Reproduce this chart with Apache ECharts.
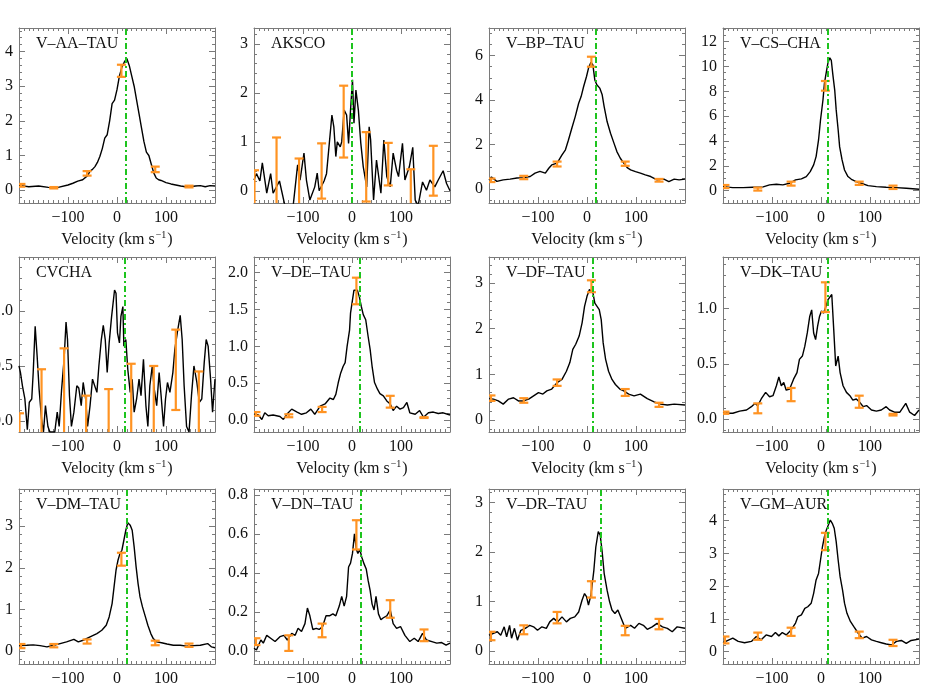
<!DOCTYPE html>
<html>
<head>
<meta charset="utf-8">
<title>Line profiles</title>
<script src="https://cdn.jsdelivr.net/npm/echarts@6/dist/echarts.min.js"></script>
<style>
    html, body { margin: 0; padding: 0; background: #fff; }
    #main { width: 939px; height: 692px; }
</style>
</head>
<body>
<div id="main"></div>
<script>
// star names, one per panel
var starNames = ['V–AA–TAU', 'AKSCO', 'V–BP–TAU', 'V–CS–CHA',
                 'CVCHA', 'V–DE–TAU', 'V–DF–TAU', 'V–DK–TAU',
                 'V–DM–TAU', 'V–DN–TAU', 'V–DR–TAU', 'V–GM–AUR'];

// systemic velocity (green dash-dot line), km/s
var vsys = [18, 0, 17, 13, 16, 16, 12, 14, 19, 17, 28, 14];

// line profiles: [velocity, flux]
var aaTau = [[-200,0.14],[-180,0.1],[-160,0.12],[-140,0.08],[-130,0.07],[-120,0.08],[-100,0.15],[-90,0.2],[-80,0.26],[-70,0.3],[-60,0.42],[-55,0.55],[-50,0.6],[-45,0.68],[-40,0.8],[-35,0.97],[-30,1.2],[-25,1.5],[-20,1.6],[-15,2.0],[-10,2.5],[-5,2.6],[0,2.9],[5,3.3],[10,3.55],[15,3.7],[20,3.8],[25,3.6],[30,3.3],[35,3.0],[40,2.6],[45,2.2],[50,1.8],[55,1.4],[60,1.1],[65,1.0],[70,0.75],[75,0.5],[80,0.35],[85,0.3],[90,0.28],[100,0.22],[110,0.18],[120,0.15],[130,0.12],[140,0.1],[150,0.1],[160,0.12],[170,0.13],[180,0.1],[190,0.13],[200,0.12]];
var akSco = [[-200,0.22],[-195,0.35],[-188,0.2],[-183,0.57],[-174,-0.05],[-166,0.35],[-161,-0.05],[-148,0.2],[-144,0.18],[-137,-0.3],[-130,-0.3],[-120,-0.3],[-111,0.53],[-106,0.22],[-98,0.77],[-93,0.22],[-86,-0.19],[-76,0.08],[-71,0.36],[-67,0.0],[-57,0.2],[-52,0.35],[-41,1.55],[-37,1.3],[-33,0.7],[-30,1.0],[-24,0.9],[-21,1.0],[-16,1.65],[-11,1.55],[-7,0.97],[-3,1.65],[1,2.27],[4,1.38],[8,2.06],[13,1.65],[18,0.97],[23,0.49],[30,0.08],[35,1.31],[38,1.04],[44,-0.19],[50,0.63],[59,-0.05],[65,1.04],[71,0.29],[78,0.08],[84,0.77],[91,0.42],[95,0.29],[103,0.97],[108,0.22],[117,0.49],[124,0.89],[129,-0.19],[135,-0.3],[144,0.18],[152,0.01],[159,0.22],[169,0.08],[176,0.22],[186,0.41],[193,0.15],[200,0.0]];
var bpTau = [[-200,0.42],[-195,0.55],[-184,0.35],[-171,0.42],[-157,0.45],[-143,0.5],[-130,0.52],[-116,0.57],[-106,0.72],[-96,0.8],[-85,0.72],[-78,0.94],[-72,1.09],[-61,1.17],[-51,1.54],[-44,1.77],[-38,2.2],[-31,2.74],[-24,3.26],[-17,3.86],[-12,4.16],[-7,4.6],[-1,5.06],[3,5.43],[8,5.7],[12,5.58],[16,4.9],[20,4.69],[26,4.54],[31,4.24],[35,3.71],[41,3.04],[48,2.51],[55,2.07],[61,1.69],[68,1.39],[75,1.17],[82,0.97],[89,0.87],[99,0.79],[109,0.72],[119,0.64],[130,0.57],[143,0.42],[157,0.45],[167,0.34],[178,0.45],[188,0.42],[200,0.45]];
var csCha = [[-200,0.32],[-180,0.24],[-159,0.24],[-139,0.27],[-118,0.3],[-105,0.46],[-91,0.51],[-78,0.46],[-64,0.59],[-52,0.86],[-40,0.94],[-30,1.13],[-22,1.53],[-15,2.07],[-10,2.74],[-5,4.08],[-1,5.69],[4,7.3],[7,8.64],[11,9.58],[14,10.25],[18,10.7],[21,10.5],[24,9.4],[28,8.1],[31,6.5],[35,4.9],[38,3.54],[43,2.47],[48,1.66],[55,1.13],[62,0.91],[72,0.72],[82,0.59],[96,0.4],[113,0.32],[133,0.27],[154,0.24],[174,0.19],[200,0.11]];
var cvCha = [[-200,0.5],[-197,0.44],[-193,0.32],[-188,0.2],[-183,-0.08],[-179,0.17],[-174,0.2],[-171,0.44],[-167,0.86],[-163,0.59],[-159,0.29],[-154,0.02],[-150,-0.1],[-146,0.14],[-141,-0.05],[-137,-0.1],[-127,-0.1],[-122,0.08],[-118,-0.05],[-113,0.29],[-108,0.56],[-104,0.9],[-101,0.74],[-97,0.23],[-93,-0.05],[-88,0.08],[-82,0.32],[-78,0.3],[-73,0.14],[-69,0.35],[-64,0.2],[-60,-0.05],[-55,0.14],[-50,0.38],[-46,0.38],[-41,0.26],[-37,0.5],[-32,0.74],[-28,0.87],[-24,0.74],[-20,0.44],[-16,0.71],[-11,0.95],[-5,1.19],[-2,1.16],[1,0.8],[5,0.71],[8,0.95],[12,1.04],[14,0.68],[18,0.74],[22,0.47],[27,0.26],[31,0.38],[35,0.08],[40,0.2],[45,0.38],[49,0.23],[54,0.56],[59,0.14],[63,-0.05],[67,0.32],[72,0.5],[76,0.29],[81,0.14],[86,0.44],[90,0.23],[95,-0.05],[99,0.2],[103,0.35],[108,0.26],[114,0.44],[118,0.65],[123,0.8],[129,0.96],[133,0.74],[137,0.32],[142,-0.05],[147,-0.1],[152,0.23],[157,0.5],[163,0.35],[168,0.17],[173,0.2],[178,0.53],[182,0.74],[186,0.68],[191,0.38],[195,0.08],[200,0.38]];
var deTau = [[-200,0.08],[-191,0.07],[-184,0.01],[-178,0.1],[-171,0.06],[-161,0.07],[-147,0.05],[-140,0.01],[-133,0.08],[-123,0.15],[-112,0.11],[-103,0.08],[-93,0.1],[-84,0.15],[-76,0.08],[-65,0.19],[-55,0.22],[-45,0.3],[-38,0.28],[-33,0.35],[-28,0.51],[-23,0.64],[-18,0.73],[-14,0.78],[-10,1.0],[-5,1.22],[-3,1.45],[1,1.63],[4,1.76],[7,1.78],[11,1.76],[15,1.67],[19,1.54],[23,1.43],[28,1.36],[33,1.13],[37,0.96],[41,0.73],[46,0.51],[52,0.42],[57,0.36],[64,0.33],[71,0.26],[78,0.22],[84,0.13],[91,0.19],[98,0.15],[105,0.17],[112,0.24],[118,0.1],[129,0.08],[138,0.13],[146,0.04],[156,0.1],[166,0.11],[176,0.09],[186,0.1],[200,0.07]];
var dfTau = [[-200,0.47],[-191,0.46],[-181,0.42],[-171,0.35],[-160,0.46],[-150,0.49],[-140,0.42],[-130,0.42],[-119,0.46],[-109,0.53],[-99,0.6],[-90,0.57],[-82,0.64],[-72,0.68],[-61,0.82],[-51,0.89],[-42,1.07],[-35,1.26],[-29,1.55],[-23,1.66],[-16,1.84],[-10,2.13],[-5,2.49],[0,2.71],[5,2.86],[8,2.89],[12,2.79],[16,2.56],[20,2.53],[25,2.42],[29,2.2],[33,1.69],[38,1.33],[44,1.07],[51,0.89],[58,0.78],[67,0.68],[75,0.64],[85,0.57],[96,0.53],[109,0.57],[123,0.47],[137,0.4],[150,0.35],[164,0.33],[178,0.35],[200,0.33]];
var dkTau = [[-200,0.06],[-190,0.05],[-180,0.05],[-166,0.07],[-152,0.08],[-142,0.11],[-135,0.14],[-129,0.12],[-122,0.18],[-113,0.24],[-105,0.2],[-98,0.21],[-91,0.3],[-86,0.38],[-81,0.3],[-76,0.33],[-71,0.26],[-64,0.27],[-56,0.36],[-49,0.42],[-44,0.54],[-38,0.57],[-33,0.66],[-28,0.78],[-23,0.93],[-19,0.99],[-15,0.78],[-11,0.72],[-7,0.84],[-3,0.93],[1,0.98],[5,0.96],[10,1.02],[14,1.08],[18,1.08],[22,1.13],[26,0.81],[30,0.48],[35,0.57],[39,0.42],[45,0.3],[52,0.24],[59,0.21],[65,0.17],[72,0.18],[79,0.15],[86,0.11],[93,0.12],[103,0.08],[113,0.07],[123,0.08],[133,0.11],[140,0.08],[150,0.06],[161,0.06],[173,0.14],[181,0.06],[191,0.03],[200,0.08]];
var dmTau = [[-200,0.13],[-184,0.14],[-171,0.15],[-157,0.13],[-143,0.1],[-129,0.14],[-116,0.18],[-103,0.22],[-88,0.28],[-79,0.22],[-69,0.26],[-55,0.34],[-41,0.42],[-31,0.5],[-22,0.62],[-16,0.82],[-10,1.14],[-6,1.54],[-2,1.94],[2,2.18],[6,2.34],[10,2.42],[14,2.66],[18,2.9],[22,3.08],[27,3.02],[31,2.9],[35,2.5],[39,2.02],[43,1.62],[47,1.3],[52,1.06],[58,0.82],[63,0.62],[69,0.42],[74,0.3],[81,0.22],[91,0.2],[102,0.17],[115,0.14],[129,0.14],[142,0.12],[156,0.13],[170,0.14],[185,0.18],[193,0.1],[200,0.08]];
var dnTau = [[-200,0.014],[-195,0.005],[-186,0.056],[-181,0.04],[-174,0.08],[-166,0.065],[-157,0.048],[-147,0.073],[-139,0.08],[-132,0.056],[-123,0.09],[-116,0.08],[-110,0.116],[-103,0.1],[-96,0.14],[-91,0.22],[-86,0.18],[-80,0.11],[-73,0.116],[-67,0.11],[-60,0.125],[-53,0.18],[-46,0.18],[-39,0.19],[-33,0.18],[-26,0.23],[-21,0.28],[-16,0.23],[-11,0.28],[-7,0.43],[-3,0.45],[1,0.5],[5,0.6],[9,0.52],[12,0.5],[16,0.52],[20,0.48],[24,0.45],[29,0.42],[33,0.36],[37,0.31],[41,0.24],[45,0.21],[49,0.28],[54,0.19],[59,0.16],[64,0.17],[71,0.18],[78,0.21],[84,0.14],[91,0.116],[99,0.125],[108,0.08],[118,0.048],[127,0.065],[135,0.048],[144,0.09],[152,0.056],[163,0.048],[173,0.04],[183,0.043],[192,0.03],[200,0.04]];
var drTau = [[-200,0.32],[-191,0.36],[-183,0.39],[-176,0.32],[-169,0.49],[-164,0.29],[-158,0.52],[-154,0.26],[-148,0.46],[-142,0.22],[-135,0.42],[-126,0.46],[-117,0.52],[-109,0.49],[-101,0.42],[-92,0.49],[-83,0.46],[-76,0.59],[-68,0.66],[-60,0.59],[-51,0.69],[-42,0.59],[-34,0.66],[-25,0.69],[-17,0.79],[-10,1.03],[-5,1.16],[-1,1.1],[3,0.93],[8,1.13],[14,1.63],[18,2.1],[23,2.41],[27,2.34],[31,2.0],[35,1.57],[41,1.23],[46,1.0],[51,0.83],[57,0.76],[63,0.83],[70,0.66],[78,0.46],[89,0.52],[97,0.46],[106,0.56],[115,0.52],[123,0.44],[133,0.49],[143,0.56],[154,0.49],[164,0.46],[174,0.39],[184,0.49],[200,0.46]];
var gmAur = [[-200,0.27],[-190,0.34],[-180,0.41],[-169,0.31],[-156,0.27],[-142,0.31],[-132,0.46],[-122,0.36],[-112,0.51],[-101,0.46],[-93,0.58],[-86,0.48],[-79,0.58],[-71,0.51],[-61,0.66],[-52,0.87],[-47,1.07],[-40,1.12],[-33,1.32],[-27,1.37],[-20,1.48],[-15,1.78],[-10,2.19],[-5,2.39],[-1,2.8],[3,3.21],[7,3.51],[11,3.72],[15,3.87],[19,4.02],[23,3.92],[27,3.77],[31,3.36],[35,2.8],[39,2.29],[44,1.88],[48,1.48],[53,1.17],[60,0.92],[67,0.76],[76,0.56],[84,0.41],[93,0.46],[103,0.36],[113,0.31],[123,0.27],[133,0.23],[144,0.2],[154,0.31],[164,0.34],[174,0.25],[184,0.34],[200,0.38]];

// error bars: [velocity, low, high]
var aaTauErr = [[-196,0.1,0.18],[-129,0.05,0.09],[-61,0.42,0.55],[9,3.27,3.62],[78,0.52,0.68],[147,0.08,0.13]];
var akScoErr = [[-199,-0.4,0.42],[-154,-0.4,1.09],[-108,-0.4,0.66],[-62,-0.16,0.97],[-17,0.68,2.15],[29,-0.22,1.2],[74,0.11,0.98],[120,-0.4,0.44],[166,-0.1,0.92]];
var bpTauErr = [[-196,0.32,0.48],[-129,0.45,0.6],[-61,1.02,1.24],[9,5.5,5.95],[78,1.05,1.24],[147,0.34,0.46]];
var csChaErr = [[-196,0.2,0.45],[-129,0.0,0.24],[-61,0.4,0.72],[9,8.05,8.83],[78,0.46,0.72],[147,0.13,0.4]];
var cvChaErr = [[-199,-0.3,0.07],[-154,-0.3,0.47],[-108,-0.3,0.66],[-63,-0.3,0.23],[-17,-0.3,0.29],[29,-0.3,0.52],[75,-0.3,0.5],[120,0.1,0.83],[167,-0.3,0.45]];
var deTauErr = [[-196,0.06,0.11],[-129,0.04,0.08],[-61,0.11,0.18],[9,1.57,1.93],[78,0.17,0.33],[147,0.03,0.04]];
var dfTauErr = [[-196,0.42,0.54],[-129,0.38,0.48],[-61,0.75,0.89],[9,2.8,3.06],[78,0.53,0.68],[147,0.29,0.38]];
var dkTauErr = [[-196,0.045,0.065],[-129,0.05,0.14],[-61,0.16,0.28],[9,0.97,1.24],[78,0.1,0.21],[147,0.03,0.045]];
var dmTauErr = [[-196,0.07,0.17],[-129,0.09,0.17],[-61,0.18,0.28],[9,2.05,2.36],[78,0.14,0.25],[147,0.1,0.18]];
var dnTauErr = [[-196,0.03,0.065],[-129,0.0,0.08],[-61,0.07,0.14],[9,0.52,0.67],[78,0.17,0.26],[147,0.05,0.11]];
var drTauErr = [[-196,0.22,0.39],[-129,0.34,0.52],[-61,0.56,0.79],[9,1.08,1.41],[78,0.32,0.51],[147,0.44,0.65]];
var gmAurErr = [[-196,0.25,0.46],[-129,0.36,0.58],[-61,0.48,0.73],[9,3.1,3.63],[78,0.41,0.61],[147,0.17,0.36]];

var spectra = [aaTau, akSco, bpTau, csCha, cvCha, deTau, dfTau, dkTau, dmTau, dnTau, drTau, gmAur];
var errors = [aaTauErr, akScoErr, bpTauErr, csChaErr, cvChaErr, deTauErr, dfTauErr, dkTauErr, dmTauErr, dnTauErr, drTauErr, gmAurErr];

// y axis: [min, max, major step, minor splits]
var yAxisRange = [[-0.37, 4.68, 1, 5], [-0.25, 3.33, 1, 5], [-0.62, 7.24, 2, 4], [-1.0, 13.1, 2, 4],
                  [-0.10, 1.49, 0.5, 5], [-0.16, 2.21, 0.5, 5], [-0.26, 3.57, 1, 5], [-0.12, 1.47, 0.5, 5],
                  [-0.31, 3.89, 1, 5], [-0.067, 0.83, 0.2, 4], [-0.26, 3.27, 1, 5], [-0.38, 4.97, 1, 5]];

var colLeft = [19, 254, 489, 723];
var rowTop = [28, 257, 489];
var panelW = 196, panelH = 175;

var serif = '"Liberation Serif", "DejaVu Serif", serif';
var frameColor = '#7a7a7a';
var errColor = '#ff9322';
var sysColor = '#1ec41e';

function fmtX(v) {
    if (Math.abs(v) > 150) return '';
    return v < 0 ? '\u2212' + Math.abs(v) : String(v);
}

function makeFmtY(step) {
    var dec = step < 1 ? 1 : 0;
    return function (v) {
        var k = v / step;
        if (Math.abs(k - Math.round(k)) > 1e-6 || v < 0) return '';
        return v.toFixed(dec);
    };
}

function renderErr(params, api) {
    var x = api.value(0);
    var lo = api.coord([x, api.value(1)]);
    var hi = api.coord([x, api.value(2)]);
    var hw = 4.5;
    var st = {stroke: errColor, lineWidth: 2.2};
    return {
        type: 'group',
        children: [
            {type: 'line', shape: {x1: lo[0], y1: lo[1], x2: hi[0], y2: hi[1]}, style: st},
            {type: 'line', shape: {x1: lo[0] - hw, y1: lo[1], x2: lo[0] + hw, y2: lo[1]}, style: st},
            {type: 'line', shape: {x1: hi[0] - hw, y1: hi[1], x2: hi[0] + hw, y2: hi[1]}, style: st}
        ]
    };
}

var grids = [], xAxes = [], yAxes = [], series = [], titles = [];

starNames.forEach(function (name, i) {
    var left = colLeft[i % 4];
    var top = rowTop[Math.floor(i / 4)];
    var yr = yAxisRange[i];

    grids.push({left: left, top: top, width: panelW, height: panelH, containLabel: false, outerBoundsMode: 'none'});

    titles.push({
        text: name, left: left + 17, top: top + 8, padding: 0,
        textStyle: {fontFamily: serif, fontSize: 16, fontWeight: 'normal', color: '#111'}
    });

    var tick = {show: true, inside: true, length: 6, lineStyle: {color: frameColor, width: 1}};
    var line = {show: true, onZero: false, lineStyle: {color: frameColor, width: 1}};

    // bottom + top x axes
    [0, 1].forEach(function (k) {
        xAxes.push({
            gridIndex: i, type: 'value', position: k ? 'top' : 'bottom',
            min: -200, max: 200, minInterval: 100, maxInterval: 100,
            name: k ? '' : '{n|Velocity (km s}{s|\u22121}{n|)}',
            nameLocation: 'middle', nameGap: 27,
            nameTextStyle: {
                color: '#111',
                rich: {
                    n: {fontFamily: serif, fontSize: 16, color: '#111', lineHeight: 20},
                    s: {fontFamily: serif, fontSize: 10, color: '#111', lineHeight: 20, verticalAlign: 'top', padding: [0, 1, 9, 1]}
                }
            },
            axisLine: line, axisTick: tick,
            minorTick: {show: true, splitNumber: 10, length: 3, lineStyle: {color: frameColor, width: 1}},
            axisLabel: {show: !k, margin: 7, fontFamily: serif, fontSize: 16, color: '#111', formatter: fmtX},
            splitLine: {show: false}, minorSplitLine: {show: false}
        });
    });

    // left + right y axes
    [0, 1].forEach(function (k) {
        yAxes.push({
            gridIndex: i, type: 'value', position: k ? 'right' : 'left',
            min: yr[0], max: yr[1], minInterval: yr[2], maxInterval: yr[2],
            axisLine: line, axisTick: tick,
            minorTick: {show: true, splitNumber: yr[3], length: 3, lineStyle: {color: frameColor, width: 1}},
            axisLabel: {show: !k, margin: 6, fontFamily: serif, fontSize: 16, color: '#111', formatter: makeFmtY(yr[2])},
            splitLine: {show: false}, minorSplitLine: {show: false}
        });
    });

    series.push({
        type: 'line', name: name, xAxisIndex: 2 * i, yAxisIndex: 2 * i,
        data: spectra[i], symbol: 'none', showSymbol: false, clip: true,
        lineStyle: {color: '#000', width: 1.4}, itemStyle: {color: '#000'},
        markLine: {
            silent: true, symbol: ['none', 'none'], label: {show: false}, animation: false,
            lineStyle: {color: sysColor, width: 2, type: [6, 3, 2, 3]},
            emphasis: {disabled: true},
            data: [{xAxis: vsys[i]}]
        },
        z: 2
    });

    series.push({
        type: 'custom', xAxisIndex: 2 * i, yAxisIndex: 2 * i,
        data: errors[i], renderItem: renderErr, clip: true,
        encode: {x: 0, y: [1, 2]}, z: 4
    });
});

var chart = echarts.init(document.getElementById('main'));
chart.setOption({
    animation: false,
    backgroundColor: '#fff',
    title: titles,
    grid: grids,
    xAxis: xAxes,
    yAxis: yAxes,
    series: series
});

window.addEventListener('resize', function () {
    chart.resize();
});
</script>
</body>
</html>
